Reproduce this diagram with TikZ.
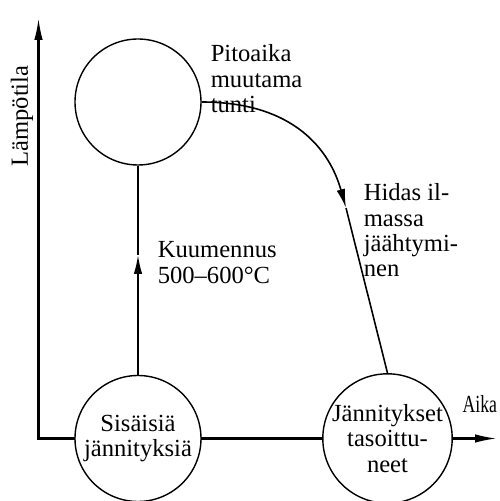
\documentclass[tikz,border=0pt]{standalone}
\usepackage{fontspec}
\setmainfont{Liberation Serif}
\usetikzlibrary{arrows.meta}
\begin{document}
\begin{tikzpicture}[line width=0.9pt,
  ring/.style={circle, draw, fill=white, minimum size=2.52cm, inner sep=0pt, align=center, line width=0.8pt},
  txt/.style={font=\fontsize{14}{14.4}\selectfont, inner sep=0pt},
  tip/.style={-{Latex[length=3.8mm, width=1.7mm]}}]
  \useasboundingbox (0,0) rectangle (10,10.02);
  \coordinate (O) at (0.77,1.25);
  \coordinate (Y) at (0.77,9.66);
  \coordinate (X) at (9.94,1.25);
  \coordinate (K) at (2.76,4.92);
  \coordinate (J) at (6.92,5.86);
  \draw[line width=1.2pt, {Latex[length=4.4mm, width=1.7mm]}-{Latex[length=4.4mm, width=1.7mm]}] (Y) -- (O) -- (X);
  \node[ring] (H) at (2.76,7.98) {};
  \node[ring, txt] (S) at (2.76,1.25) {Sisäisiä\\jännityksiä};
  \node[ring, txt] (T) at (7.75,1.25) {Jännitykset\\tasoittu-\\neet};
  \node[txt, anchor=north west, align=left] (P) at (4.2,9.14) {Pitoaika\\muutama\\tunti};
  \node[txt, anchor=north west, align=left] (D) at (7.26,6.36) {Hidas il-\\massa\\jäähtymi-\\nen};
  \node[txt, anchor=north west, align=left] (U) at (3.14,5.2) {Kuumennus\\500–600°C};
  \node[txt, rotate=90] (L) at (0.44,7.70) {Lämpötila};
  \node[txt, anchor=base west, xscale=0.72] (A) at (9.24,1.76) {Aika};
  \draw[tip] (S) -- (K);
  \draw (K) -- (H);
  \draw[tip] (H.east) .. controls (5.9,7.98) and (6.6,7.0) .. (J);
  \draw (J) -- (T.north);
\end{tikzpicture}
\end{document}
